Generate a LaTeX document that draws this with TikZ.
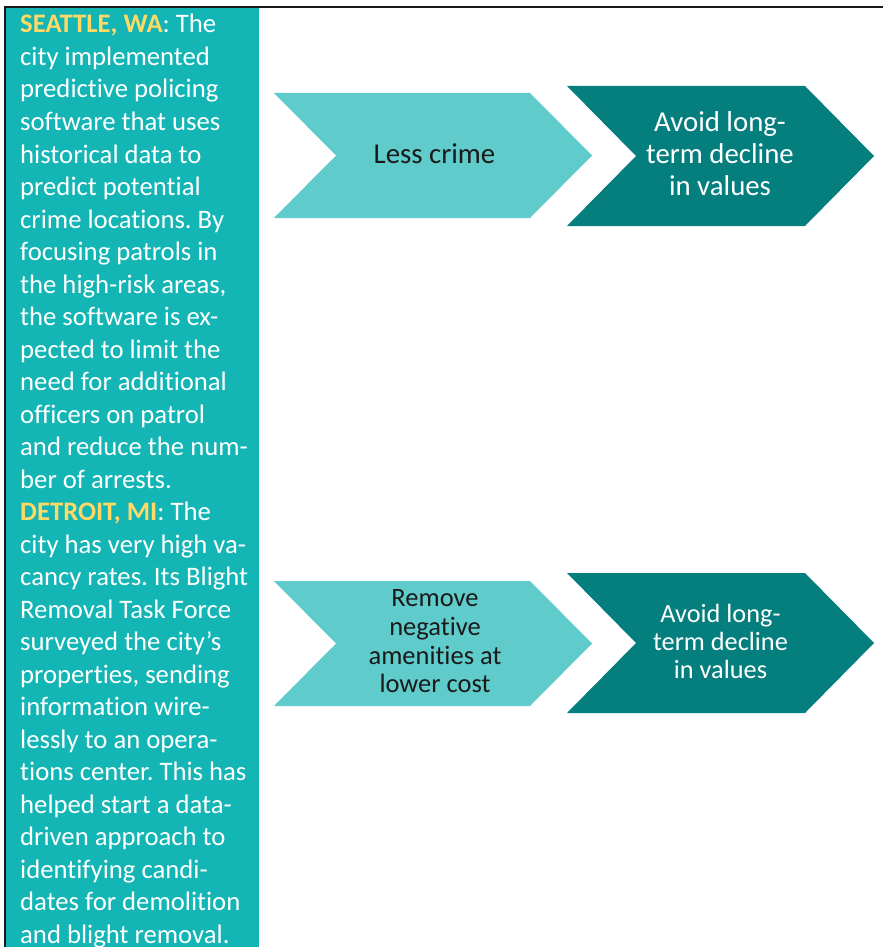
\documentclass[tikz,border=0pt]{standalone}
\usepackage{fontspec}
\setmainfont{Carlito}[Ligatures=NoCommon]
\frenchspacing

\definecolor{panelteal}{HTML}{13B5B5}
\definecolor{lightteal}{HTML}{5FCBCB}
\definecolor{darkteal}{HTML}{057F7E}
\definecolor{cityyellow}{HTML}{FFD966}
\definecolor{inkdark}{HTML}{1A1A1A}

\newcommand{\cityname}[1]{\textcolor{cityyellow}{\textbf{#1}}}

\tikzset{
  frameline/.style={draw=black!90, line width=2pt},
  bodyline/.style={anchor=base west, inner sep=0pt, text=white,
    font=\fontsize{26.7}{32.5}\selectfont},
  lightchev/.style={fill=lightteal, draw=none},
  darkchev/.style={fill=darkteal, draw=none},
  toplabel/.style={align=center, inner sep=0pt, font=\fontsize{28.8}{31.7}\selectfont},
  lowlabel/.style={align=center, inner sep=0pt, font=\fontsize{26.5}{28.7}\selectfont},
  lowlabelB/.style={align=center, inner sep=0pt, font=\fontsize{26.3}{28}\selectfont},
}

\begin{document}
\begin{tikzpicture}[x=1pt,y=-1pt]
  \useasboundingbox (0,0) rectangle (883,947);

  % side panel and frame
  \fill[panelteal] (6,8) rectangle (259,947);
  \draw[frameline] (5,947) -- (5,7) -- (883,7);

  % case study text
  \foreach \txt [count=\i] in {
    {\cityname{SEATTLE, WA}: The},
    {city implemented},
    {predictive policing},
    {software that uses},
    {historical data to},
    {predict potential},
    {crime locations. By},
    {focusing patrols in},
    {the high-risk areas,},
    {the software is ex-},
    {pected to limit the},
    {need for additional},
    {officers on patrol},
    {and reduce the num-},
    {ber of arrests.},
    {\cityname{DETROIT, MI}: The},
    {city has very high va-},
    {cancy rates. Its Blight},
    {Removal Task Force},
    {surveyed the city’s},
    {properties, sending},
    {information wire-},
    {lessly to an opera-},
    {tions center. This has},
    {helped start a data-},
    {driven approach to},
    {identifying candi-},
    {dates for demolition},
    {and blight removal.}
  }{
    \node[bodyline] (line\i) at (20,{33+32.5*(\i-1)}) {\txt};
  }

  % upper chain
  \fill[lightchev] (274,93) -- (530,93) -- (592,155.5) -- (530,218) -- (274,218) -- (336,155.5) -- cycle;
  \fill[darkchev] (567,86) -- (805,86) -- (874,156) -- (805,226) -- (567,226) -- (636,156) -- cycle;
  \node[toplabel, text=inkdark, anchor=base] (crime) at (434.5,163) {Less crime};
  \node[toplabel, text=white] (valuesA) at (720,153.5) {Avoid long-\\term decline\\in values};

  % lower chain
  \fill[lightchev] (274,581) -- (530,581) -- (592,643.5) -- (530,706) -- (274,706) -- (336,643.5) -- cycle;
  \fill[darkchev] (567,573) -- (805,573) -- (874,643) -- (805,713) -- (567,713) -- (636,643) -- cycle;
  \node[lowlabel, text=inkdark] (amenities) at (435,641.5) {Remove\\negative\\amenities at\\lower cost};
  \node[lowlabelB, text=white] (valuesB) at (720.5,641) {Avoid long-\\term decline\\in values};
\end{tikzpicture}
\end{document}
